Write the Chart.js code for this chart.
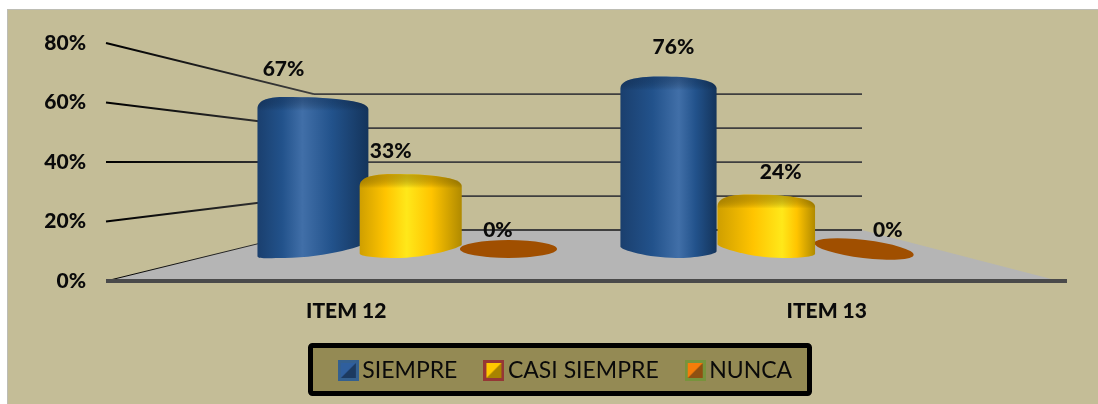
<!DOCTYPE html>
<html>
<head>
<meta charset="utf-8">
<title>ITEM 12 / ITEM 13</title>
<script src="https://cdn.jsdelivr.net/npm/chart.js@4"></script>
<style>
  html, body { margin: 0; padding: 0; background: #fff; }
  #wrap { width: 1098px; height: 404px; }
</style>
</head>
<body>
<div id="wrap"><canvas id="chart"></canvas></div>
<script>
const categories = ['ITEM 12', 'ITEM 13'];
const seriesNames = ['SIEMPRE', 'CASI SIEMPRE', 'NUNCA'];
const siempre = [67, 76];
const casiSiempre = [33, 24];
const nunca = [0, 0];

const FONT = 'Lato, Carlito, "Open Sans", sans-serif';

// colours per series: gradient edge/mid/highlight, cap shade, legend swatch
const looks = [
  { edgeL: '#1a3f6e', mid: '#22528b', hi: '#416fa8', edgeR: '#14345b', cap: 'rgba(16,44,84,0.45)',
    border: '#34608f', swA: '#2f5f9e', swB: '#1c3a60' },
  { edgeL: '#cf9f00', mid: '#ffc400', hi: '#ffe81a', edgeR: '#b08a00', cap: 'rgba(150,115,0,0.55)',
    border: '#953735', swA: '#ffc800', swB: '#a88300' },
  { flat: '#a04f00', border: '#77933c', swA: '#f57d0a', swB: '#8f5012' }
];

// little pyramid squares used as legend markers
function swatch(look) {
  const c = document.createElement('canvas');
  c.width = 21; c.height = 21;
  const g = c.getContext('2d');
  g.fillStyle = look.border;
  g.fillRect(0, 0, 21, 21);
  g.fillStyle = look.swB;
  g.fillRect(3, 3, 15, 15);
  g.fillStyle = look.swA;
  g.beginPath();
  g.moveTo(3, 3); g.lineTo(18, 3); g.lineTo(10.5, 10.5); g.lineTo(3, 18);
  g.closePath();
  g.fill();
  return c;
}

// fake 3D: the chart area is the front plane, bars stand further back, gridlines on the back wall
const BAR_SHRINK_X = 0.74;
const BAR_SHRINK_W = 0.725;
const BAR_SHIFT_X = 2;
const BAR_SHRINK_Y = 0.763;
const BAR_FLOOR = 32;   // px above the front axis
const WALL_SHRINK_Y = 0.571;
const WALL_FLOOR = 51;
const WALL_INSET_L = 208;
const WALL_INSET_R = 205;
const FLOOR_INSET_R = 8;

function drawCylinder(ctx, m) {
  const { x0, x1, yTop, yFloor, off, look } = m;
  const w = x1 - x0;
  const pb = Math.max(0.2, Math.min(0.8, 0.5 + 0.28 * off));
  const pt = 0.5 - 0.28 * Math.abs(off);
  const peakT = x0 + pt * w;
  const peakB = x0 + pb * w;
  const ySh = yTop + 12;
  const yBottom = yFloor + 9;
  const sideL = yFloor + (0.5 - pb) * 28;
  const sideR = yFloor + (pb - 0.5) * 28;

  const shape = () => {
    ctx.beginPath();
    ctx.moveTo(x0, ySh);
    ctx.bezierCurveTo(x0, yTop + 2, peakT - (peakT - x0) * 0.5, yTop, peakT, yTop);
    ctx.bezierCurveTo(peakT + (x1 - peakT) * 0.5, yTop, x1, yTop + 3, x1, ySh);
    ctx.lineTo(x1, sideR);
    ctx.bezierCurveTo(x1, sideR + 3, peakB + (x1 - peakB) * 0.5, yBottom, peakB, yBottom);
    ctx.bezierCurveTo(peakB - (peakB - x0) * 0.5, yBottom, x0, sideL + 3, x0, sideL);
    ctx.closePath();
  };

  const hi = Math.max(0.3, Math.min(0.75, 0.56 + 0.17 * off));
  const grad = ctx.createLinearGradient(x0, 0, x1, 0);
  grad.addColorStop(0, look.edgeL);
  grad.addColorStop(hi * 0.55, look.mid);
  grad.addColorStop(hi, look.hi);
  grad.addColorStop(hi + (1 - hi) * 0.45, look.mid);
  grad.addColorStop(1, look.edgeR);

  ctx.save();
  shape();
  ctx.fillStyle = grad;
  ctx.fill();
  ctx.clip();
  const cap = ctx.createLinearGradient(0, yTop, 0, ySh + 2);
  cap.addColorStop(0, look.cap);
  cap.addColorStop(1, 'rgba(0,0,0,0)');
  ctx.fillStyle = cap;
  ctx.fillRect(x0, yTop, w, ySh + 2 - yTop);
  ctx.restore();
}

function drawFlat(ctx, m) {
  const angle = m.off > 0 ? m.off * 0.13 : 0;
  ctx.fillStyle = m.look.flat;
  ctx.beginPath();
  ctx.ellipse((m.x0 + m.x1) / 2, m.yFloor, (m.x1 - m.x0) / 2, 9, angle, 0, Math.PI * 2);
  ctx.fill();
}

const chart3d = {
  id: 'chart3d',
  afterLayout(chart) {
    // legend sits a bit right of the plot centre and lower than its own padding wants
    const lg = chart.legend;
    lg.right += 71;
    lg.top += 4;
    lg.bottom += 4;
  },
  beforeDraw(chart) {
    const { ctx, width, height } = chart;
    ctx.save();
    ctx.fillStyle = '#ffffff';
    ctx.fillRect(0, 0, width, height);
    ctx.fillStyle = '#bdbdb4';
    ctx.fillRect(7, 9, width - 7, height - 9);
    ctx.fillStyle = '#c4bd97';
    ctx.fillRect(8, 10, width - 8, height - 10);
    // legend frame
    ctx.fillStyle = '#948a54';
    ctx.strokeStyle = '#000000';
    ctx.lineWidth = 5;
    ctx.beginPath();
    ctx.roundRect(310.5, 345.5, 499, 48, 2);
    ctx.fill();
    ctx.stroke();
    ctx.restore();
  },
  beforeDatasetsDraw(chart) {
    const { ctx, chartArea: a, scales: { y } } = chart;
    const base = y.getPixelForValue(0);
    const wallL = a.left + WALL_INSET_L;
    const wallR = a.right - WALL_INSET_R;
    const wallY = v => base - WALL_FLOOR - (base - y.getPixelForValue(v)) * WALL_SHRINK_Y;

    ctx.save();
    // floor
    ctx.fillStyle = '#b5b5b5';
    ctx.beginPath();
    ctx.moveTo(a.left, base);
    ctx.lineTo(wallL, wallY(0));
    ctx.lineTo(wallR, wallY(0));
    ctx.lineTo(a.right - FLOOR_INSET_R, base);
    ctx.closePath();
    ctx.fill();

    // gridlines: side wall then back wall
    y.ticks.forEach(t => {
      const fy = y.getPixelForValue(t.value);
      const by = wallY(t.value);
      const g = ctx.createLinearGradient(a.left, 0, wallL, 0);
      g.addColorStop(0, '#000000');
      g.addColorStop(1, '#3f3f3f');
      ctx.strokeStyle = g;
      ctx.lineWidth = t.value === 0 ? 1 : 2;
      ctx.beginPath();
      ctx.moveTo(a.left, fy);
      ctx.lineTo(wallL, by);
      ctx.stroke();
      ctx.strokeStyle = '#3f3f3f';
      ctx.lineWidth = 1.8;
      ctx.beginPath();
      ctx.moveTo(wallL, by);
      ctx.lineTo(wallR, by);
      ctx.stroke();
    });

    // front axis
    ctx.strokeStyle = '#4a4a4a';
    ctx.lineWidth = 4;
    ctx.beginPath();
    ctx.moveTo(a.left, base);
    ctx.lineTo(a.right, base);
    ctx.stroke();
    ctx.restore();
  },
  // the library's flat bars are replaced by the cylinders below
  beforeDatasetDraw() {
    return false;
  },
  afterDatasetsDraw(chart) {
    const { ctx, chartArea: a, scales: { y } } = chart;
    const mid = (a.left + a.right) / 2;
    const base = y.getPixelForValue(0);
    const floor = base - BAR_FLOOR;
    const marks = [];
    chart.data.datasets.forEach((ds, i) => {
      chart.getDatasetMeta(i).data.forEach((el, j) => {
        const cx = mid + (el.x - mid) * BAR_SHRINK_X + BAR_SHIFT_X;
        const off = (cx - mid) / 300;
        const grow = 1 + (off < 0 ? 0.19 : 0.05) * off * off;
        const w = el.width * BAR_SHRINK_W * grow;
        marks.push({
          value: ds.data[j], cx, off, look: looks[i],
          x0: cx - w / 2, x1: cx + w / 2,
          yTop: floor - (base - el.y) * BAR_SHRINK_Y,
          yFloor: floor
        });
      });
    });

    ctx.save();
    marks.slice().sort((p, q) => Math.abs(q.off) - Math.abs(p.off)).forEach(m => {
      if (m.value > 0) drawCylinder(ctx, m); else drawFlat(ctx, m);
    });

    ctx.fillStyle = '#0a0a0a';
    ctx.font = '900 21px ' + FONT;
    ctx.textAlign = 'center';
    ctx.textBaseline = 'middle';
    marks.forEach(m => {
      ctx.fillText(m.value + '%', m.cx + 29 * m.off - 3, m.yTop - (19 + 0.13 * m.value));
    });
    ctx.restore();
  }
};

new Chart(document.getElementById('chart'), {
  type: 'bar',
  data: {
    labels: categories,
    datasets: [
      { label: seriesNames[0], data: siempre, backgroundColor: '#22528b' },
      { label: seriesNames[1], data: casiSiempre, backgroundColor: '#ffc400' },
      { label: seriesNames[2], data: nunca, backgroundColor: '#a04f00' }
    ]
  },
  plugins: [chart3d],
  options: {
    responsive: true,
    maintainAspectRatio: false,
    animation: false,
    events: [],
    layout: { padding: { top: 43, right: 31, bottom: 16, left: 0 } },
    datasets: { bar: { categoryPercentage: 0.825, barPercentage: 1 } },
    scales: {
      x: {
        grid: { display: false, drawTicks: false },
        border: { display: false },
        ticks: { color: '#0a0a0a', padding: 18, font: { family: FONT, size: 21, weight: '900' } },
        afterFit: s => { s.height = 40; }
      },
      y: {
        min: 0,
        max: 80,
        grid: { display: false, drawTicks: false },
        border: { display: false },
        ticks: {
          stepSize: 20,
          padding: 20,
          color: '#0a0a0a',
          font: { family: FONT, size: 21, weight: '900' },
          callback: v => v + '%'
        },
        afterFit: s => { s.width = 106; }
      }
    },
    plugins: {
      tooltip: { enabled: false },
      legend: {
        position: 'bottom',
        labels: {
          usePointStyle: true,
          boxWidth: 5,
          padding: 34,
          color: '#0a0a0a',
          font: { family: FONT, size: 23 },
          generateLabels: chart => chart.data.datasets.map((ds, i) => ({
            text: ds.label,
            datasetIndex: i,
            pointStyle: swatch(looks[i]),
            fontColor: '#0a0a0a'
          }))
        }
      }
    }
  }
});
</script>
</body>
</html>
